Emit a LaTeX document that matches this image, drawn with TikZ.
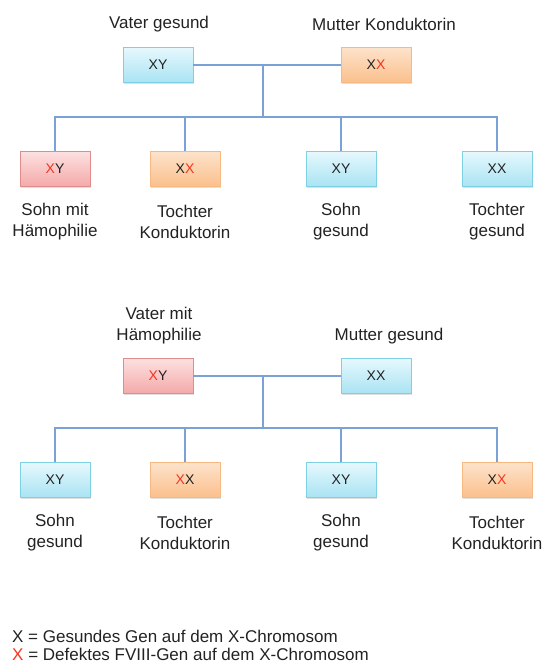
\documentclass[tikz,border=0pt]{standalone}
\usepackage{fontspec}
\setmainfont{Liberation Sans}
\usetikzlibrary{shadows}
\definecolor{linkblue}{HTML}{7BA2D6}
\definecolor{txt}{HTML}{222222}
\definecolor{bad}{HTML}{F5341E}
\definecolor{blueLine}{HTML}{7FD0E2}
\definecolor{blueTop}{HTML}{E6F8FD}
\definecolor{blueBot}{HTML}{A9E3F3}
\definecolor{orangeLine}{HTML}{F6B982}
\definecolor{orangeTop}{HTML}{FDE3CB}
\definecolor{orangeBot}{HTML}{FBBF8C}
\definecolor{redLine}{HTML}{DE8C8C}
\definecolor{redTop}{HTML}{FDE0E0}
\definecolor{redBot}{HTML}{F4A9A9}
\newcommand{\Xd}{\textcolor{bad}{X}}
\tikzset{
  x=1pt, y=-1pt,
  gbox/.style={minimum width=70pt, minimum height=35pt, inner sep=0pt,
    font=\fontsize{14}{16}\selectfont, text=txt, line width=0.8pt,
    drop shadow={shadow xshift=0.6pt, shadow yshift=-1.4pt, opacity=0.25}},
  bluebox/.style={gbox, draw=blueLine, top color=blueTop, bottom color=blueBot},
  orangebox/.style={gbox, draw=orangeLine, top color=orangeTop, bottom color=orangeBot},
  redbox/.style={gbox, draw=redLine, top color=redTop, bottom color=redBot},
  lbl/.style={align=center, font=\fontsize{17}{21}\selectfont, text=txt, inner sep=0pt},
  link/.style={draw=linkblue, line width=1.1pt}
}
\begin{document}
\begin{tikzpicture}
\useasboundingbox (0,0) rectangle (542,664);

% ---- first family: healthy father, carrier mother ----
\node[lbl] (lv1) at (159,24) {Vater gesund};
\node[lbl] (lm1) at (384,24) {Mutter Konduktorin};
\node[bluebox] (v1) at (158,65) {XY};
\node[orangebox] (m1) at (376,65) {X\Xd};
\coordinate (p1) at (263,65);
\coordinate (j1) at (263,117);

\node[redbox] (a1) at (55,169) {\Xd Y};
\node[orangebox] (b1) at (185,169) {X\Xd};
\node[bluebox] (c1) at (341,169) {XY};
\node[bluebox] (d1) at (497,169) {XX};

\node[lbl] (la1) at (55,222) {Sohn mit\\Hämophilie};
\node[lbl] (lb1) at (185,222) {Tochter\\Konduktorin};
\node[lbl] (lc1) at (341,222) {Sohn\\gesund};
\node[lbl] (ld1) at (497,222) {Tochter\\gesund};

\draw[link] (v1.east) -- (m1.west);
\draw[link] (p1) -- (j1);
\draw[link] (a1.north) |- (j1) -| (d1.north);
\draw[link] (b1.north) -- (b1.north |- j1);
\draw[link] (c1.north) -- (c1.north |- j1);

% ---- second family: father with haemophilia, healthy mother ----
\node[lbl] (lv2) at (159,326) {Vater mit\\Hämophilie};
\node[lbl] (lm2) at (389,336) {Mutter gesund};
\node[redbox] (v2) at (158,376) {\Xd Y};
\node[bluebox] (m2) at (376,376) {XX};
\coordinate (p2) at (263,376);
\coordinate (j2) at (263,428);

\node[bluebox] (a2) at (55,480) {XY};
\node[orangebox] (b2) at (185,480) {\Xd X};
\node[bluebox] (c2) at (341,480) {XY};
\node[orangebox] (d2) at (497,480) {X\Xd};

\node[lbl] (la2) at (55,533) {Sohn\\gesund};
\node[lbl] (lb2) at (185,533) {Tochter\\Konduktorin};
\node[lbl] (lc2) at (341,533) {Sohn\\gesund};
\node[lbl] (ld2) at (497,533) {Tochter\\Konduktorin};

\draw[link] (v2.east) -- (m2.west);
\draw[link] (p2) -- (j2);
\draw[link] (a2.north) |- (j2) -| (d2.north);
\draw[link] (b2.north) -- (b2.north |- j2);
\draw[link] (c2.north) -- (c2.north |- j2);

% ---- legend ----
\node[lbl, anchor=west] (k1) at (12,636) {X = Gesundes Gen auf dem X-Chromosom};
\node[lbl, anchor=west] (k2) at (12,654) {\Xd{} = Defektes FVIII-Gen auf dem X-Chromosom};
\end{tikzpicture}
\end{document}
